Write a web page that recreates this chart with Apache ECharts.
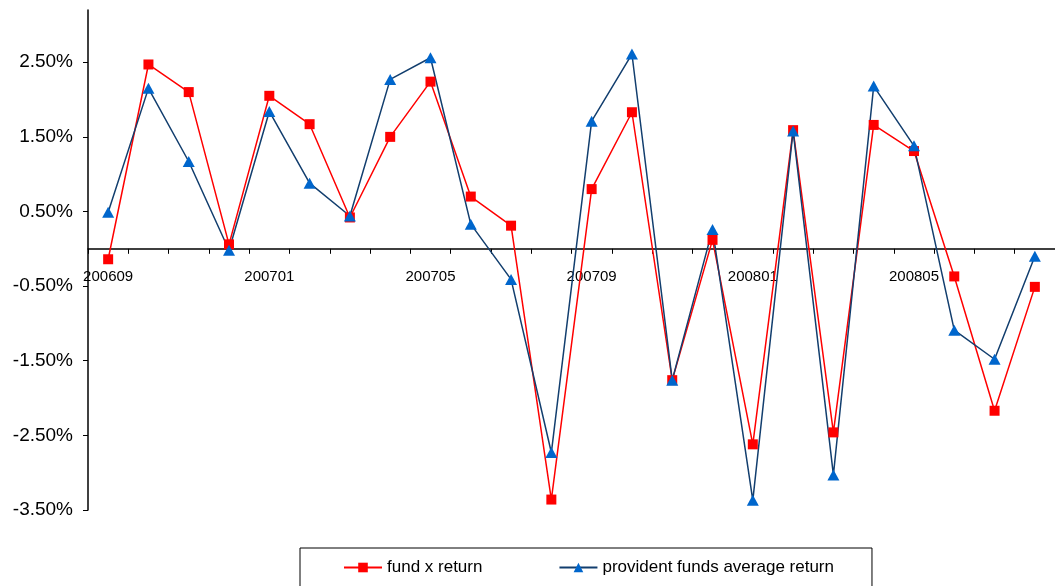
<!DOCTYPE html>
<html>
<head>
<meta charset="utf-8">
<script src="https://cdn.jsdelivr.net/npm/echarts@6/dist/echarts.min.js"></script>
<style>
  html, body { margin: 0; padding: 0; background: #fff; }
  #chart { width: 1055px; height: 586px; }
</style>
</head>
<body>
<div id="chart"></div>
<script>
// Monthly periods
const months = [
  '200609','200610','200611','200612',
  '200701','200702','200703','200704','200705','200706',
  '200707','200708','200709','200710','200711','200712',
  '200801','200802','200803','200804','200805','200806','200807','200808'
];

// Monthly returns, in percent
const fundXReturn = [
  -0.14, 2.47, 2.10, 0.06, 2.05, 1.67, 0.42, 1.50, 2.24, 0.70,
  0.31, -3.36, 0.80, 1.83, -1.76, 0.12, -2.62, 1.59, -2.46, 1.66,
  1.31, -0.37, -2.17, -0.51
];
const providentAvgReturn = [
  0.49, 2.15, 1.17, -0.02, 1.84, 0.88, 0.44, 2.27, 2.56, 0.33,
  -0.41, -2.73, 1.71, 2.61, -1.76, 0.26, -3.37, 1.58, -3.03, 2.18,
  1.38, -1.09, -1.48, -0.10
];

// Value-axis tick labels
const yTicks = [-3.5, -2.5, -1.5, -0.5, 0.5, 1.5, 2.5];

const seriesNames = ['fund x return', 'provident funds average return'];

const font = "'Liberation Sans', Arial, sans-serif";
const W = 1055, H = 586;
const gridTop = 10, gridBottom = 76;
const yMin = -3.5, yMax = 3.2;

// Shift the category axis (line, ticks, labels) up to the zero line
const plotH = H - gridTop - gridBottom;
const zeroOffset = -plotH * (0 - yMin) / (yMax - yMin);

const chart = echarts.init(document.getElementById('chart'), null, { renderer: 'canvas' });

chart.setOption({
  animation: false,
  backgroundColor: '#ffffff',
  textStyle: { fontFamily: font },
  grid: { left: 88, top: gridTop, width: 970, bottom: gridBottom, containLabel: false },
  legend: {
    left: 300,
    top: 548,
    orient: 'horizontal',
    borderColor: '#000',
    borderWidth: 1,
    padding: [11, 38, 16, 43],
    itemGap: 76,
    itemWidth: 38,
    itemHeight: 12,
    textStyle: { fontFamily: font, fontSize: 17, color: '#000' },
    data: seriesNames
  },
  xAxis: {
    type: 'category',
    data: months,
    boundaryGap: true,
    offset: zeroOffset,
    axisLine: { onZero: false, lineStyle: { color: '#000', width: 1.5 } },
    axisTick: { show: true, inside: false, length: 5, interval: 0, lineStyle: { color: '#000', width: 1 } },
    axisLabel: { interval: 3, margin: 21, fontFamily: font, fontSize: 15, color: '#000' },
    splitLine: { show: false }
  },
  yAxis: {
    type: 'value',
    min: yMin,
    max: yMax,
    interval: 1,
    axisLine: { show: true, lineStyle: { color: '#000', width: 1.5 } },
    axisTick: { show: true, length: 5, customValues: yTicks, lineStyle: { color: '#000', width: 1 } },
    axisLabel: {
      customValues: yTicks,
      margin: 15,
      fontFamily: font,
      fontSize: 19,
      color: '#000',
      formatter: v => v.toFixed(2) + '%'
    },
    splitLine: { show: false }
  },
  series: [
    {
      name: seriesNames[0],
      type: 'line',
      data: fundXReturn,
      symbol: 'rect',
      symbolSize: 10,
      lineStyle: { color: '#ff0000', width: 1.5 },
      itemStyle: { color: '#ff0000' }
    },
    {
      name: seriesNames[1],
      type: 'line',
      data: providentAvgReturn,
      symbol: 'triangle',
      symbolSize: [12, 11],
      lineStyle: { color: '#123e6e', width: 1.5 },
      itemStyle: { color: '#0066cc' }
    }
  ]
});
</script>
</body>
</html>
